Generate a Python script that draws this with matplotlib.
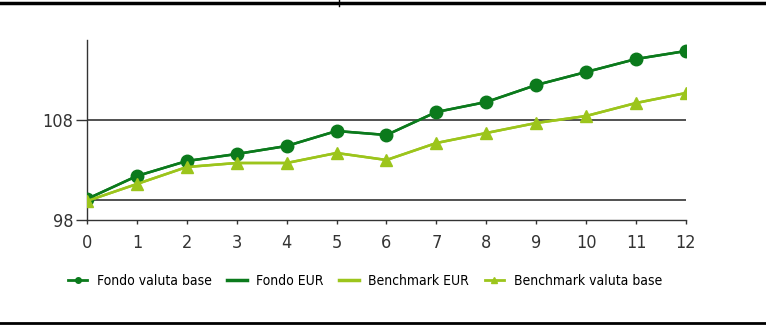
import matplotlib
matplotlib.use("Agg")
import matplotlib.pyplot as plt
from matplotlib.lines import Line2D

# values
months = list(range(13))
fondo_valuta_base = [100.1, 102.4, 103.9, 104.6, 105.4, 106.9, 106.5, 108.8, 109.8, 111.5, 112.8, 114.1, 114.9]
fondo_eur = [100.1, 102.4, 103.9, 104.6, 105.4, 106.9, 106.5, 108.8, 109.8, 111.5, 112.8, 114.1, 114.9]
benchmark_eur = [99.9, 101.6, 103.3, 103.7, 103.7, 104.7, 104.0, 105.7, 106.7, 107.7, 108.4, 109.7, 110.7]
benchmark_valuta_base = [99.9, 101.6, 103.3, 103.7, 103.7, 104.7, 104.0, 105.7, 106.7, 107.7, 108.4, 109.7, 110.7]
y_ticks = [98, 108]
grid_values = [100, 108]

dark = "#0b7a1c"
light = "#9cc51c"

plt.rcParams["font.family"] = ["DejaVu Sans"]
plt.rcParams["font.stretch"] = "condensed"

fig = plt.figure(figsize=(7.66, 3.36), dpi=100)
ax = fig.add_axes([87 / 766, 1 - 220 / 336, 599 / 766, 180 / 336])

for g in grid_values:
    ax.axhline(g, color="#333333", lw=1.2, zorder=1)

ax.plot(months, fondo_eur, color=dark, lw=1.8, zorder=2)
ax.plot(months, fondo_valuta_base, color=dark, lw=1.8, marker="o", markersize=9, zorder=3)
ax.plot(months, benchmark_eur, color=light, lw=1.8, zorder=2)
ax.plot(months, benchmark_valuta_base, color=light, lw=1.8, marker="^", markersize=9, zorder=3)

ax.set_xlim(0, 12)
ax.set_ylim(98, 116)
ax.set_xticks(months)
ax.set_yticks(y_ticks)
ax.tick_params(axis="x", length=3, width=1, labelsize=13, pad=7, labelcolor="#333333", color="#333333")
ax.tick_params(axis="y", length=8, width=1, labelsize=13, pad=2, labelcolor="#333333", color="#333333")
for s in ["top", "right"]:
    ax.spines[s].set_visible(False)
for s in ["left", "bottom"]:
    ax.spines[s].set_color("#333333")
    ax.spines[s].set_linewidth(1)
ax.spines["left"].set_zorder(0)

handles = [
    Line2D([], [], color=dark, lw=2, marker="o", markersize=4),
    Line2D([], [], color=dark, lw=2.5),
    Line2D([], [], color=light, lw=2.5),
    Line2D([], [], color=light, lw=2, marker="^", markersize=4),
]
labels = ["Fondo valuta base", "Fondo EUR", "Benchmark EUR", "Benchmark valuta base"]
fig.legend(handles, labels, loc="center left", bbox_to_anchor=(68 / 766, 1 - 281 / 336),
           ncol=4, frameon=False, fontsize=10, handlelength=1.4, handletextpad=0.7,
           columnspacing=1.1, borderaxespad=0, borderpad=0)

# frame lines of the page
fig.add_artist(Line2D([0, 1], [1 - 2.5 / 336, 1 - 2.5 / 336], color="black", lw=2.5))
fig.add_artist(Line2D([339 / 766, 339 / 766], [1, 1 - 6 / 336], color="black", lw=1))
fig.add_artist(Line2D([0, 1], [1 - 323 / 336, 1 - 323 / 336], color="black", lw=2))

fig.savefig("out.png", dpi=100)
